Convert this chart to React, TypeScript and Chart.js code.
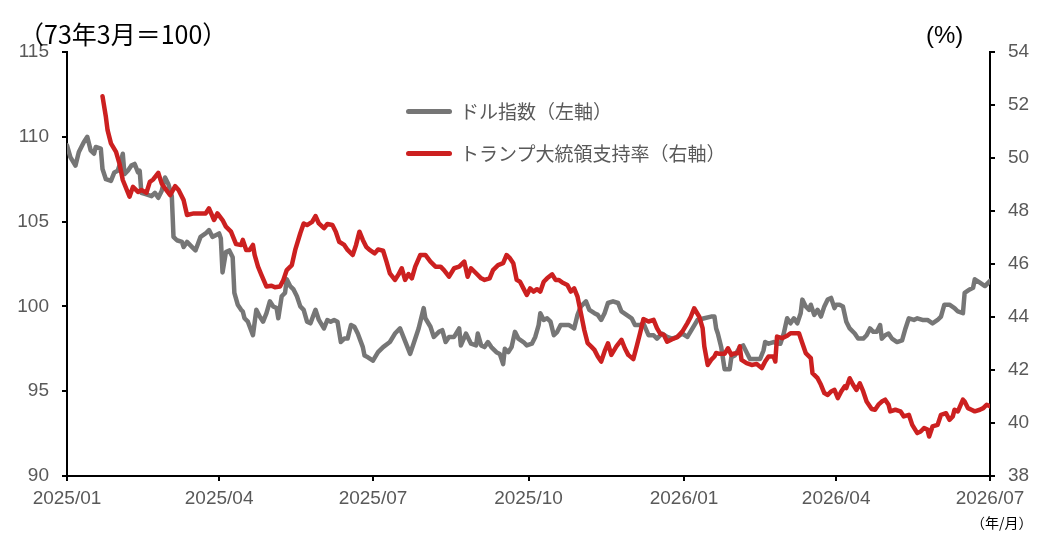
import React, { useEffect, useRef } from "react";
import { Chart, registerables } from "chart.js";

Chart.register(...registerables);

const FONT = '"Liberation Sans", Arial, "Noto Sans CJK JP", sans-serif';
const JP_FONT = '"Noto Sans CJK JP", "Liberation Sans", sans-serif';

// Day offsets are counted from 2025/01/01.
const START = Date.UTC(2025, 0, 1);

const monthTicks = ["2025/01", "2025/04", "2025/07", "2025/10", "2026/01", "2026/04", "2026/07"];
const leftAxis = { min: 90, max: 115, step: 5 };
const rightAxis = { min: 38, max: 54, step: 2 };

const leftTitle = "（73年3月＝100）";
const rightTitle = "(%)";
const xTitle = "（年/月）";
const dollarLabel = "ドル指数（左軸）";
const approvalLabel = "トランプ大統領支持率（右軸）";

const GRAY = "#767676";
const RED = "#cc2020";
const TICK_COLOR = "#595959";

// [day offset, dollar index]
const dollarIndex: [number, number][] = [
  [0, 109.5], [2, 108.8], [5, 108.3], [7, 109.1], [10, 109.7], [12, 110.0], [14, 109.2], [16, 109.0], [17, 109.4], [20, 109.3],
  [21, 108.1], [23, 107.5], [26, 107.4], [28, 107.9], [30, 108.0], [32, 108.6], [33, 109.0], [34, 107.8], [36, 108.0], [38, 108.3],
  [40, 108.4], [42, 107.9], [43, 108.0], [44, 106.7], [47, 106.6], [50, 106.5], [52, 106.7], [54, 106.4], [56, 106.8], [58, 107.6],
  [60, 107.2], [62, 106.5], [63, 104.1], [65, 103.9], [68, 103.8], [69, 103.5], [71, 103.8], [74, 103.5], [76, 103.3], [79, 104.1],
  [82, 104.3], [84, 104.5], [86, 104.1], [88, 104.2], [90, 104.3], [91, 104.0], [92, 102.0], [94, 103.2], [96, 103.3], [98, 102.9],
  [99, 100.8], [101, 100.1], [103, 99.8], [104, 99.7], [105, 99.3], [107, 99.1], [110, 98.3], [112, 99.8], [114, 99.4], [116, 99.1],
  [118, 99.6], [120, 100.3], [122, 100.0], [124, 99.9], [125, 99.3], [127, 100.6], [129, 100.8], [130, 101.6], [132, 101.2], [134, 101.0],
  [136, 100.6], [138, 100.0], [140, 99.8], [142, 99.1], [144, 99.0], [147, 99.8], [149, 99.2], [152, 98.7], [154, 99.2], [156, 99.1],
  [158, 99.2], [160, 99.1], [162, 97.9], [164, 98.1], [166, 98.1], [168, 98.9], [170, 98.8], [172, 98.4], [175, 97.6], [176, 97.1],
  [178, 97.0], [181, 96.8], [184, 97.3], [187, 97.6], [191, 97.9], [194, 98.4], [197, 98.7], [199, 98.2], [203, 97.2], [205, 97.8],
  [208, 98.7], [211, 99.9], [212, 99.3], [215, 98.8], [217, 98.2], [220, 98.5], [222, 98.6], [224, 97.9], [226, 98.2], [229, 98.2],
  [232, 98.7], [233, 97.7], [236, 98.4], [239, 97.8], [242, 97.7], [243, 98.4], [245, 97.7], [247, 97.6], [249, 97.9], [251, 97.6],
  [254, 97.3], [256, 97.2], [258, 96.6], [259, 97.5], [261, 97.3], [263, 97.6], [265, 98.5], [267, 98.1], [270, 97.9], [272, 97.7],
  [275, 97.8], [277, 98.2], [279, 98.9], [280, 99.6], [282, 99.2], [284, 99.3], [286, 99.1], [288, 98.3], [290, 98.5], [292, 98.9],
  [295, 98.9], [297, 98.9], [300, 98.7], [302, 99.5], [304, 100.0], [307, 100.3], [309, 99.8], [312, 99.6], [314, 99.5], [316, 99.2],
  [318, 99.6], [320, 100.2], [323, 100.3], [326, 100.2], [328, 99.7], [331, 99.5], [334, 99.3], [336, 98.9], [339, 98.9], [341, 99.0],
  [344, 98.3], [347, 98.3], [349, 98.1], [352, 98.4], [355, 98.2], [358, 98.1], [361, 98.2], [364, 98.4], [367, 98.2], [370, 98.7],
  [373, 99.2], [377, 99.3], [381, 99.4], [383, 99.4], [384, 98.7], [385, 98.4], [387, 97.6], [389, 96.3], [392, 96.3], [393, 97.0],
  [395, 97.1], [398, 97.6], [400, 97.7], [402, 97.3], [404, 96.9], [407, 96.9], [410, 96.9], [412, 97.4], [413, 97.9], [415, 97.8],
  [418, 97.9], [420, 97.8], [422, 97.8], [424, 98.4], [426, 99.3], [428, 99.0], [430, 99.3], [432, 99.0], [434, 99.6], [435, 100.4],
  [437, 100.0], [439, 99.8], [440, 100.1], [442, 99.5], [444, 99.8], [446, 99.4], [448, 100.0], [450, 100.4], [452, 100.5], [454, 99.9],
  [455, 100.1], [457, 100.1], [459, 100.0], [461, 99.1], [463, 98.7], [466, 98.4], [468, 98.1], [471, 98.1], [473, 98.3], [475, 98.7],
  [477, 98.5], [479, 98.5], [481, 98.9], [482, 98.1], [484, 98.3], [486, 98.4], [488, 98.1], [491, 97.9], [494, 98.0], [496, 98.7],
  [498, 99.3], [501, 99.2], [503, 99.3], [506, 99.2], [509, 99.2], [512, 99.0], [515, 99.2], [517, 99.4], [519, 100.1], [522, 100.1],
  [525, 99.9], [527, 99.7], [530, 99.6], [531, 100.8], [534, 101.0], [536, 101.1], [537, 101.6], [540, 101.4], [543, 101.2], [546, 101.5],
];

// [day offset, approval rating %]
const approvalRating: [number, number][] = [
  [21, 52.33], [23, 51.55], [24, 51.05], [26, 50.55], [29, 50.23], [31, 49.8], [33, 49.17], [37, 48.54], [39, 48.91], [42, 48.72],
  [44, 48.79], [47, 48.69], [49, 49.1], [51, 49.19], [54, 49.44], [56, 49.04], [58, 48.85], [61, 48.6], [64, 48.94], [66, 48.79],
  [69, 48.41], [71, 47.85], [75, 47.91], [79, 47.91], [82, 47.91], [84, 48.1], [87, 47.66], [89, 47.91], [92, 47.66], [94, 47.41],
  [97, 47.22], [100, 46.75], [103, 46.72], [104, 46.91], [106, 46.53], [108, 46.53], [110, 46.72], [111, 46.34], [113, 45.9], [115, 45.59],
  [118, 45.15], [121, 45.18], [123, 45.12], [126, 45.15], [128, 45.4], [130, 45.77], [133, 45.96], [135, 46.53], [138, 47.16], [140, 47.53],
  [142, 47.47], [145, 47.59], [147, 47.81], [149, 47.53], [152, 47.35], [154, 47.51], [157, 47.47], [159, 47.22], [161, 46.84], [164, 46.72],
  [166, 46.53], [169, 46.34], [171, 46.72], [173, 47.22], [175, 46.91], [177, 46.65], [179, 46.53], [182, 46.4], [184, 46.55], [187, 46.5],
  [189, 46.09], [191, 45.65], [194, 45.4], [196, 45.59], [198, 45.84], [200, 45.4], [202, 45.62], [204, 45.46], [206, 45.9], [209, 46.34],
  [212, 46.34], [215, 46.09], [218, 45.9], [221, 45.9], [223, 45.77], [226, 45.52], [229, 45.84], [232, 45.9], [235, 46.09], [237, 45.52],
  [239, 45.84], [242, 45.65], [245, 45.46], [247, 45.4], [250, 45.46], [252, 45.77], [255, 45.96], [258, 46.03], [260, 46.34], [262, 46.22],
  [264, 46.03], [266, 45.4], [268, 45.33], [270, 45.08], [272, 44.83], [274, 45.08], [276, 44.96], [278, 45.05], [280, 44.96], [282, 45.33],
  [284, 45.46], [287, 45.61], [289, 45.4], [291, 45.4], [293, 45.3], [296, 45.21], [298, 44.96], [300, 45.08], [302, 44.77], [304, 44.14],
  [306, 43.51], [308, 43.01], [310, 42.89], [312, 42.76], [314, 42.51], [316, 42.32], [318, 42.7], [320, 43.01], [322, 42.57], [325, 42.89],
  [328, 43.14], [330, 42.82], [332, 42.57], [335, 42.41], [337, 42.89], [339, 43.39], [341, 43.92], [344, 43.83], [347, 43.89], [349, 43.58],
  [351, 43.36], [353, 43.33], [355, 43.07], [358, 43.16], [361, 43.24], [364, 43.45], [367, 43.77], [369, 44.01], [371, 44.33], [374, 44.01],
  [376, 43.58], [377, 42.89], [379, 42.19], [381, 42.38], [383, 42.51], [384, 42.64], [386, 42.61], [389, 42.61], [391, 42.82], [393, 42.57],
  [394, 42.61], [397, 42.64], [398, 42.89], [399, 42.38], [402, 42.26], [405, 42.19], [408, 42.23], [411, 42.07], [413, 42.32], [415, 42.51],
  [418, 42.51], [419, 42.32], [420, 43.26], [423, 43.2], [426, 43.29], [428, 43.39], [431, 43.39], [433, 43.39], [435, 43.01], [437, 42.64],
  [440, 42.45], [441, 41.88], [444, 41.69], [446, 41.44], [448, 41.13], [450, 41.06], [452, 41.19], [454, 41.25], [456, 40.94], [458, 41.19],
  [460, 41.38], [461, 41.32], [463, 41.69], [465, 41.44], [467, 41.25], [469, 41.5], [471, 41.19], [473, 40.81], [476, 40.53], [478, 40.5],
  [480, 40.69], [482, 40.81], [484, 40.88], [486, 40.69], [487, 40.44], [490, 40.5], [493, 40.44], [495, 40.25], [498, 40.31], [500, 39.93],
  [503, 39.62], [505, 39.68], [507, 39.81], [509, 39.75], [510, 39.49], [512, 39.87], [515, 39.93], [517, 40.31], [520, 40.37], [522, 40.12],
  [524, 40.25], [525, 40.5], [527, 40.44], [530, 40.88], [531, 40.81], [533, 40.56], [535, 40.5], [537, 40.44], [540, 40.5], [542, 40.56],
  [544, 40.69], [546, 40.63],
];

function dayOf(label: string): number {
  const [y, m] = label.split("/").map(Number);
  return (Date.UTC(y, m - 1, 1) - START) / 86400000;
}

const tickDays = monthTicks.map(dayOf);

export default function App() {
  const canvasRef = useRef<HTMLCanvasElement | null>(null);

  useEffect(() => {
    const canvas = canvasRef.current;
    if (!canvas) return;
    const axisGrid = {
      drawOnChartArea: false,
      drawTicks: true,
      tickLength: 5,
      color: "#000",
      lineWidth: 2,
    };
    const axisBorder = { display: true, color: "#000", width: 2 };
    const tickFont = { family: FONT, size: 19 };

    const chart = new Chart(canvas, {
      type: "line",
      data: {
        datasets: [
          {
            label: approvalLabel,
            data: approvalRating.map(([x, y]) => ({ x, y })),
            yAxisID: "y2",
            borderColor: RED,
            borderWidth: 4.5,
            pointRadius: 0,
            tension: 0,
            borderJoinStyle: "round",
            borderCapStyle: "round",
            order: 0,
          },
          {
            label: dollarLabel,
            data: dollarIndex.map(([x, y]) => ({ x, y })),
            yAxisID: "y",
            borderColor: GRAY,
            borderWidth: 4.5,
            pointRadius: 0,
            tension: 0,
            borderJoinStyle: "round",
            borderCapStyle: "round",
            order: 1,
          },
        ],
      },
      options: {
        animation: false,
        responsive: false,
        maintainAspectRatio: false,
        layout: { padding: { top: 52, left: 0, right: 0, bottom: 0 } },
        plugins: { legend: { display: false }, tooltip: { enabled: false } },
        scales: {
          x: {
            type: "linear",
            min: tickDays[0],
            max: tickDays[tickDays.length - 1],
            afterBuildTicks: (scale: any) => {
              scale.ticks = tickDays.map((value) => ({ value }));
            },
            afterFit: (scale: any) => {
              scale.height = 60;
            },
            ticks: {
              autoSkip: false,
              maxRotation: 0,
              color: TICK_COLOR,
              font: tickFont,
              padding: 6,
              callback: (value: any) => {
                const i = tickDays.indexOf(Number(value));
                return i >= 0 ? monthTicks[i] : "";
              },
            },
            grid: axisGrid,
            border: axisBorder,
          },
          y: {
            position: "left",
            min: leftAxis.min,
            max: leftAxis.max,
            afterFit: (scale: any) => {
              scale.width = 67;
            },
            ticks: { stepSize: leftAxis.step, color: TICK_COLOR, font: tickFont, padding: 13 },
            grid: axisGrid,
            border: axisBorder,
          },
          y2: {
            position: "right",
            min: rightAxis.min,
            max: rightAxis.max,
            afterFit: (scale: any) => {
              scale.width = 50;
            },
            ticks: { stepSize: rightAxis.step, color: TICK_COLOR, font: tickFont, padding: 13 },
            grid: axisGrid,
            border: axisBorder,
          },
        },
      },
    } as any);

    return () => chart.destroy();
  }, []);

  const legendRow = (top: number, color: string, text: string) => (
    <div style={{ position: "absolute", left: 406, top, height: 22, display: "flex", alignItems: "center" }}>
      <div style={{ width: 46, height: 5, borderRadius: 3, background: color }} />
      <span style={{ marginLeft: 8, fontFamily: JP_FONT, fontSize: 19, color: TICK_COLOR, lineHeight: "22px" }}>{text}</span>
    </div>
  );

  return (
    <div style={{ position: "absolute", left: 0, top: 0, width: 1040, height: 536, background: "#fff" }}>
      <canvas ref={canvasRef} width={1040} height={536} style={{ display: "block", width: 1040, height: 536 }} />
      <div style={{ position: "absolute", left: 19, top: 18, fontFamily: JP_FONT, fontSize: 25, lineHeight: "30px", color: "#000" }}>
        {leftTitle}
      </div>
      <div style={{ position: "absolute", left: 926, top: 20, fontFamily: FONT, fontSize: 24, lineHeight: "30px", color: "#000" }}>
        {rightTitle}
      </div>
      <div style={{ position: "absolute", left: 971, top: 512, fontFamily: JP_FONT, fontSize: 14, lineHeight: "20px", color: "#000" }}>
        {xTitle}
      </div>
      {legendRow(100, GRAY, dollarLabel)}
      {legendRow(142, RED, approvalLabel)}
    </div>
  );
}
